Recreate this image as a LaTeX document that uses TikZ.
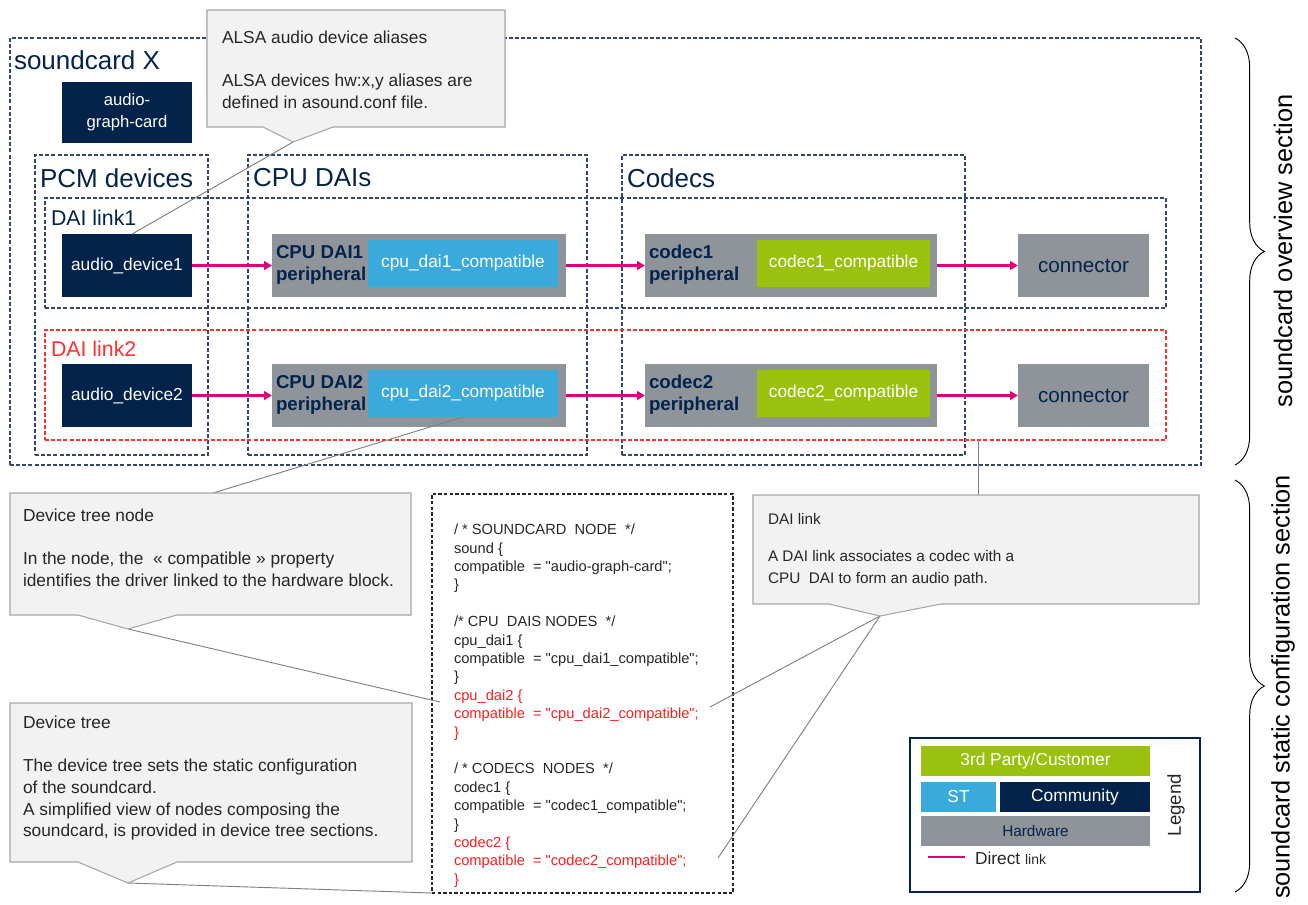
\documentclass[tikz,border=0pt]{standalone}
\usepackage{fontspec}
\setmainfont{Liberation Sans}
\newfontfamily\codefont{Liberation Sans}
\usetikzlibrary{fit,decorations.pathreplacing,arrows.meta,calc}
\definecolor{navy}{HTML}{03234B}
\definecolor{stblue}{HTML}{3AAADC}
\definecolor{stgreen}{HTML}{9BC10F}
\definecolor{hwgray}{HTML}{8E949A}
\definecolor{magentalink}{HTML}{E2007A}
\definecolor{dashnavy}{HTML}{33466E}
\definecolor{dashred}{HTML}{FF3030}
\definecolor{codered}{HTML}{FF1E1E}
\definecolor{calloutfill}{HTML}{F2F2F2}
\definecolor{calloutdraw}{HTML}{A6A6A6}
\definecolor{pointerline}{HTML}{808080}
\definecolor{textgray}{HTML}{262626}
\begin{document}
\begin{tikzpicture}[x=0.75pt,y=-0.75pt,
  every node/.style={inner sep=0pt, outer sep=0pt},
  area/.style={draw=dashnavy, line width=0.9pt, dash pattern=on 3pt off 1.6pt, inner sep=0pt},
  redarea/.style={draw=dashred, line width=0.9pt, dash pattern=on 3pt off 1.6pt, inner sep=0pt},
  codearea/.style={draw=textgray, line width=0.8pt, dash pattern=on 2.6pt off 1.6pt, inner sep=0pt},
  navybox/.style={fill=navy, inner sep=0pt},
  graybox/.style={fill=hwgray, inner sep=0pt},
  bluebox/.style={fill=stblue, inner sep=0pt},
  greenbox/.style={fill=stgreen, inner sep=0pt},
  whitetext/.style={text=white, font=\fontsize{13}{15}\selectfont, align=center},
  periph/.style={anchor=west, text=navy, font=\fontsize{14}{16.5}\selectfont\bfseries, align=left},
  conntext/.style={text=navy, font=\fontsize{15.5}{17}\selectfont},
  areatitle/.style={anchor=west, text=navy, font=\fontsize{19.5}{21}\selectfont},
  linktitle/.style={anchor=west, font=\fontsize{16}{18}\selectfont},
  link/.style={draw=magentalink, line width=1.8pt, -{Triangle[length=6pt,width=6.5pt]}},
  callout/.style={fill=calloutfill, draw=calloutdraw, line width=0.8pt},
  pointer/.style={draw=pointerline, line width=0.7pt},
  callouttext/.style={anchor=north west, align=left, text=textgray, font=\fontsize{13}{16.3}\selectfont},
  brace/.style={draw=black, line width=0.7pt, decorate, decoration={brace, amplitude=22pt}},
  sidetext/.style={rotate=90, font=\fontsize{19}{21}\selectfont, text=black}
]
\useasboundingbox (0,0) rectangle (1308,904);

% ---------- overview areas ----------
\node[area, fit={(10,38)(1201,465)}] (card) {};
\node[areatitle] (cardlbl) at (14,60) {soundcard X};
\node[area, fit={(35,155)(208,455)}] (pcm) {};
\node[areatitle] (pcmlbl) at (40,178) {PCM devices};
\node[area, fit={(248,155)(587,455)}] (cpudais) {};
\node[areatitle] (cpulbl) at (253,178) {CPU DAIs};
\node[area, fit={(622,155)(965,455)}] (codecs) {};
\node[areatitle] (codlbl) at (627,178) {Codecs};
\node[area, fit={(45,198)(1166,308)}] (dl1) {};
\node[linktitle, text=navy] (dl1lbl) at (51,218) {DAI link1};
\node[redarea, fit={(45,330)(1166,440)}] (dl2) {};
\node[linktitle, text=dashred] (dl2lbl) at (51,349) {DAI link2};

\node[navybox, fit={(62,82)(192,143)}] (agc) {};
\node[whitetext, font=\fontsize{12.5}{16.5}\selectfont] (agctxt) at (agc.center) {audio-\\graph-card};

% ---------- row 1 ----------
\node[navybox, fit={(62,234)(192,297)}] (ad1) {};
\node[whitetext] (ad1txt) at (ad1.center) {audio\_device1};
\node[graybox, fit={(272,234)(566,297)}] (cpu1) {};
\node[periph] (cpu1lbl) at (276,265) {CPU DAI1\\peripheral};
\node[bluebox, fit={(368,240)(558,287)}] (cpu1c) {};
\node[whitetext] (cpu1ctxt) at (cpu1c.center) {cpu\_dai1\_compatible};
\node[graybox, fit={(645,234)(937,297)}] (cod1) {};
\node[periph] (cod1lbl) at (649,265) {codec1\\peripheral};
\node[greenbox, fit={(757,240)(930,287)}] (cod1c) {};
\node[whitetext] (cod1ctxt) at (cod1c.center) {codec1\_compatible};
\node[graybox, fit={(1018,234)(1149,297)}] (con1) {};
\node[conntext] (con1txt) at (con1.center) {connector};

% ---------- row 2 ----------
\node[navybox, fit={(62,364)(192,427)}] (ad2) {};
\node[whitetext] (ad2txt) at (ad2.center) {audio\_device2};
\node[graybox, fit={(272,364)(566,427)}] (cpu2) {};
\node[periph] (cpu2lbl) at (276,395) {CPU DAI2\\peripheral};
\node[bluebox, fit={(368,370)(558,417)}] (cpu2c) {};
\node[whitetext] (cpu2ctxt) at (cpu2c.center) {cpu\_dai2\_compatible};
\node[graybox, fit={(645,364)(937,427)}] (cod2) {};
\node[periph] (cod2lbl) at (649,395) {codec2\\peripheral};
\node[greenbox, fit={(757,370)(930,417)}] (cod2c) {};
\node[whitetext] (cod2ctxt) at (cod2c.center) {codec2\_compatible};
\node[graybox, fit={(1018,364)(1149,427)}] (con2) {};
\node[conntext] (con2txt) at (con2.center) {connector};

% ---------- links ----------
\draw[link] (ad1.east) -- (cpu1.west);
\draw[link] (cpu1.east) -- (cod1.west);
\draw[link] (cod1.east) -- (con1.west);
\draw[link] (ad2.east) -- (cpu2.west);
\draw[link] (cpu2.east) -- (cod2.west);
\draw[link] (cod2.east) -- (con2.west);

% ---------- code box ----------
\node[codearea, fit={(432,494)(733,893)}] (code) {};
\node[anchor=north west, align=left, text=textgray, font=\codefont\fontsize{11}{13.8}\selectfont] (codetxt) at (454,524) {%
/ * SOUNDCARD\ \ NODE\ \ */\\
sound \{\\
compatible\ \ = "audio-graph-card";\\
\}\\[13.8pt]
/* CPU\ \ DAIS NODES\ \ */\\
cpu\_dai1 \{\\
compatible\ \ = "cpu\_dai1\_compatible";\\
\}\\
\textcolor{codered}{cpu\_dai2 \{}\\
\textcolor{codered}{compatible\ \ = "cpu\_dai2\_compatible";}\\
\textcolor{codered}{\}}\\[13.8pt]
/ * CODECS\ \ NODES\ \ */\\
codec1 \{\\
compatible\ \ = "codec1\_compatible";\\
\}\\
\textcolor{codered}{codec2 \{}\\
\textcolor{codered}{compatible\ \ = "codec2\_compatible";}\\
\textcolor{codered}{\}}};
\coordinate (codecpu2) at (440,702);
\coordinate (codecpu2r) at (710,707);
\coordinate (codecod2r) at (718,858);

% ---------- callouts: pointer lines ----------
\coordinate (alsatip) at (293,142);
\coordinate (dtntip) at (128,629);
\coordinate (dtntop) at (213,493);
\coordinate (dttip) at (128,883);
\coordinate (dltip) at (880,616);
\coordinate (dltop) at (978,495);
\draw[pointer] (alsatip) -- ($(ad1.north)+(5,0)$);
\draw[pointer] (dtntop) -- (cpu2c.south);
\draw[pointer] (dtntip) -- (codecpu2);
\draw[pointer] (dttip) -- (code.south west);
\draw[pointer] (dltip) -- (codecpu2r);
\draw[pointer] (dltip) -- (codecod2r);
\draw[pointer] (dltop) -- (dltop |- dl2.south);

% ---------- callouts ----------
\draw[callout] (207,10) -- (505,10) -- (505,127) -- (333,127) -- (alsatip) -- (263,127) -- (207,127) -- cycle;
\node[callouttext] (alsatxt) at (222,30.5) {ALSA audio\ device\ aliases\\[16.3pt]ALSA devices\ hw:x,y aliases are\\defined\ in asound.conf file.};

\draw[callout] (10,493) -- (411,493) -- (411,615) -- (177,615) -- (dtntip) -- (78,615) -- (10,615) -- cycle;
\node[callouttext] (dtntxt) at (23,508.5) {Device\ tree\ node\\[16.3pt]In the node, the\ \ « compatible » property\\identifies the driver\ linked to the hardware\ block.};

\draw[callout] (10,703) -- (412,703) -- (412,862) -- (177,862) -- (dttip) -- (78,862) -- (10,862) -- cycle;
\node[callouttext] (dttxt) at (23,715.5) {Device\ tree\\[16.3pt]The device\ tree\ sets the static configuration\\of the soundcard.\\A simplified\ view\ of nodes composing the\\soundcard, is provided\ in device\ tree sections.};

\draw[callout] (753,495) -- (1199,495) -- (1199,604) -- (941,604) -- (dltip) -- (829,604) -- (753,604) -- cycle;
\node[callouttext, font=\fontsize{11.5}{16.5}\selectfont] (dltxt) at (768,513.5) {DAI\ link\\[11.25pt]A DAI\ link\ associates a codec\ with a\\CPU\ \ DAI\ to\ form an audio\ path.};

% ---------- legend ----------
\node[draw=navy, line width=1.5pt, fit={(910,738)(1200,892)}] (legend) {};
\node[greenbox, fit={(921,746)(1150,776)}] (lg3rd) {};
\node[whitetext] (lg3rdtxt) at (lg3rd.center) {3rd Party/Customer};
\node[bluebox, fit={(921,782)(996,812)}] (lgst) {};
\node[whitetext] (lgsttxt) at (lgst.center) {ST};
\node[navybox, fit={(1000,782)(1150,812)}] (lgcom) {};
\node[whitetext] (lgcomtxt) at (lgcom.center) {Community};
\node[graybox, fit={(921,816)(1150,846)}] (lghw) {};
\node[text=navy, font=\fontsize{11.5}{13}\selectfont] (lghwtxt) at (lghw.center) {Hardware};
\coordinate (lgl1) at (928,857);
\coordinate (lgl2) at (965,857);
\draw[draw=magentalink, line width=1.8pt] (lgl1) -- (lgl2);
\node[anchor=west, text=textgray, font=\fontsize{13}{15}\selectfont] (lgdl) at (975,858) {Direct {\fontsize{10.5}{12}\selectfont link}};
\node[rotate=90, text=textgray, font=\fontsize{14}{16}\selectfont] (lglbl) at (1176,805) {Legend};

% ---------- braces ----------
\coordinate (b1a) at (1235,38);
\coordinate (b1b) at (1235,465);
\coordinate (b2a) at (1235,480);
\coordinate (b2b) at (1235,892);
\draw[brace] (b1a) -- (b1b);
\draw[brace] (b2a) -- (b2b);
\node[sidetext] (s1) at (1283,251) {soundcard overview section};
\node[sidetext] (s2) at (1283,687) {soundcard static configuration section};
\end{tikzpicture}
\end{document}
